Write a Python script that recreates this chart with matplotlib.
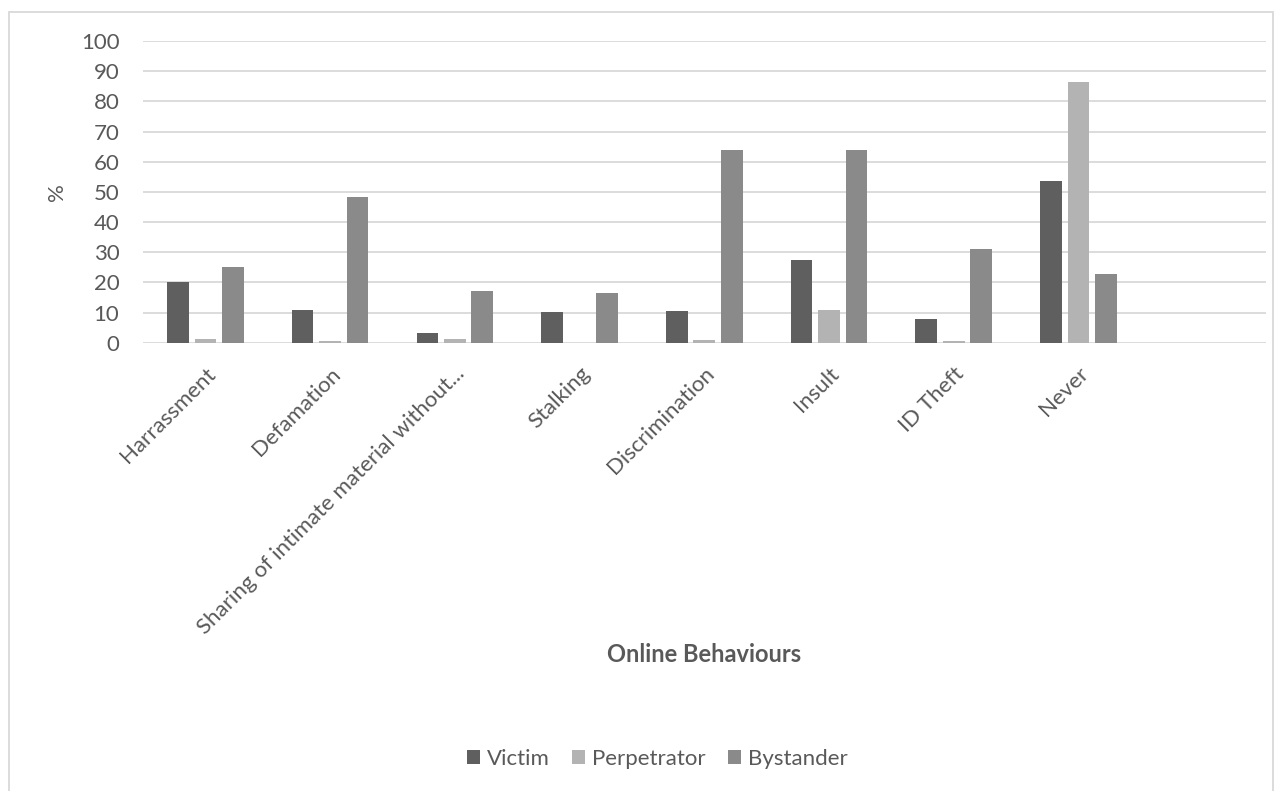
import numpy as np
import matplotlib.pyplot as plt
from matplotlib.patches import Rectangle

plt.rcParams['font.family'] = ['Lato', 'DejaVu Sans']

categories = ['Harrassment', 'Defamation', 'Sharing of intimate material without...',
              'Stalking', 'Discrimination', 'Insult', 'ID Theft', 'Never', '']
victim = [20.1, 10.7, 3.1, 10.1, 10.4, 27.3, 7.8, 53.5, np.nan]
perpetrator = [1.3, 0.6, 1.1, 0.0, 0.9, 10.8, 0.55, 86.4, np.nan]
bystander = [25.1, 48.3, 17.0, 16.4, 63.8, 63.8, 30.9, 22.7, np.nan]

text_col = '#595959'
grid_col = '#d9d9d9'

fig = plt.figure(figsize=(12.82, 7.91), dpi=100)
ax = fig.add_axes([143 / 1282, 1 - 342.7 / 791, (1265.5 - 143) / 1282, (342.7 - 41) / 791])

x = np.arange(len(categories))
w = 0.174
off = 0.22
ax.bar(x - off, victim, w, color='#5f5f5f', label='Victim', zorder=3)
ax.bar(x, perpetrator, w, color='#b3b3b3', label='Perpetrator', zorder=3)
ax.bar(x + off, bystander, w, color='#8a8a8a', label='Bystander', zorder=3)

ax.set_xlim(-0.5, len(categories) - 0.5)
ax.set_ylim(0, 100)
ax.set_yticks(range(0, 101, 10))
ax.yaxis.grid(True, color=grid_col, linewidth=1.3, zorder=0)
for s in ax.spines.values():
    s.set_visible(False)
ax.tick_params(axis='both', length=0, labelsize=16, colors=text_col)
ax.tick_params(axis='y', pad=17)
ax.set_xticks(x)
ax.set_xticklabels(categories, rotation=45, ha='right', va='top',
                   rotation_mode='anchor', color=text_col)
ax.tick_params(axis='x', pad=15)

fig.text(57 / 1282, 1 - 192 / 791, '%', fontsize=16, color=text_col,
         rotation=90, ha='center', va='center')
fig.text(704 / 1282, 1 - 655 / 791, 'Online Behaviours', fontsize=17,
         fontweight='bold', color=text_col, ha='center', va='center')

fig.legend(loc='center', bbox_to_anchor=(657 / 1282, 1 - 759 / 791), ncol=3,
           frameon=False, fontsize=16, labelcolor=text_col, handlelength=0.6,
           handleheight=0.6, handletextpad=0.3, columnspacing=1.0)

fig.patches.append(Rectangle((9 / 1282, -0.01), (1273 - 9) / 1282, 1.01 - 12 / 791,
                             transform=fig.transFigure, fill=False,
                             edgecolor=grid_col, linewidth=1.3))

fig.savefig('out.png', dpi=100)
